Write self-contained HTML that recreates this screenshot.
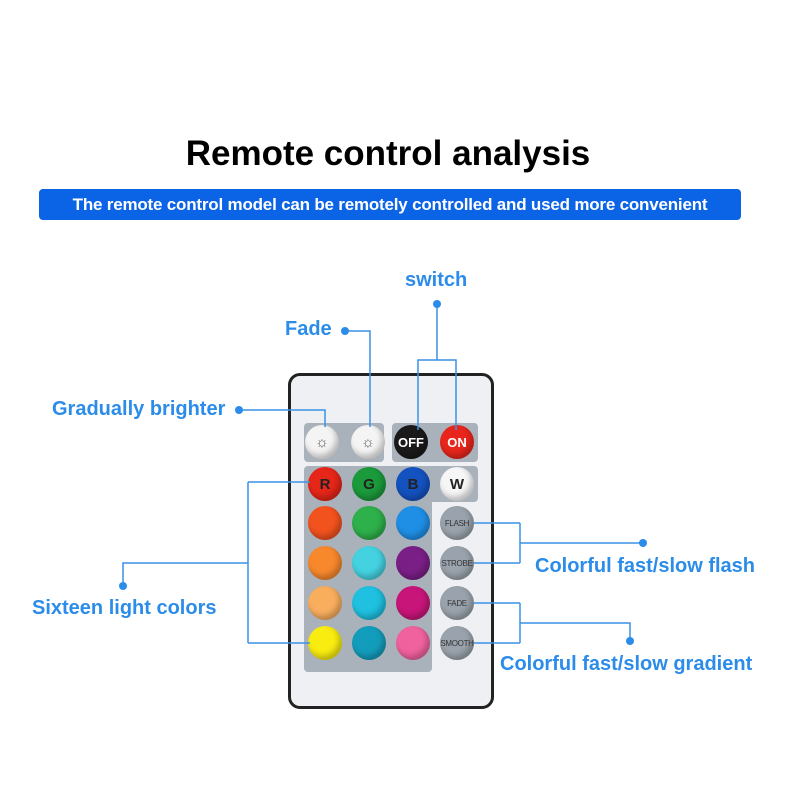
<!DOCTYPE html>
<html><head><style>
body{margin:0;width:800px;height:800px;background:#fff;position:relative;font-family:"Liberation Sans",sans-serif;overflow:hidden}
.t{position:absolute;color:#2b8ce9;font-size:20px;font-weight:bold;white-space:nowrap}
.b{position:absolute;border-radius:50%;display:flex;align-items:center;justify-content:center;font-weight:bold;font-size:15px;box-shadow:inset -3px -4px 6px rgba(0,0,0,.25)}
.s{font-size:8px;color:#333;font-weight:normal;background:#9aa3ad;letter-spacing:-0.3px}
</style></head><body>
<div style="position:absolute;left:0;top:134px;width:776px;text-align:center;font-size:35px;font-weight:bold;color:#000">Remote control analysis</div>
<div style="position:absolute;left:39px;top:189px;width:702px;height:31px;background:#0b63e6;border-radius:4px;color:#fff;font-size:17px;font-weight:bold;line-height:31px;text-align:center;letter-spacing:-0.2px">The remote control model can be remotely controlled and used more convenient</div>

<div style="position:absolute;left:288px;top:373px;width:200px;height:330px;border:3px solid #222;border-radius:12px;background:#eef0f3"></div>
<div style="position:absolute;left:304px;top:423px;width:80px;height:39px;background:#a9b1bb;border-radius:4px"></div>
<div style="position:absolute;left:392px;top:423px;width:86px;height:39px;background:#a9b1bb;border-radius:4px"></div>
<div style="position:absolute;left:304px;top:466px;width:174px;height:36px;background:#a9b1bb;border-radius:4px"></div>
<div style="position:absolute;left:304px;top:480px;width:128px;height:192px;background:#a9b1bb;border-radius:4px"></div>

<div class="b" style="left:305px;top:425px;width:34px;height:34px;background:#f4f4f4;color:#555">☼</div>
<div class="b" style="left:351px;top:425px;width:34px;height:34px;background:#f4f4f4;color:#555">☼</div>
<div class="b" style="left:394px;top:425px;width:34px;height:34px;background:#1a1a1a;color:#fff;font-size:13px">OFF</div>
<div class="b" style="left:440px;top:425px;width:34px;height:34px;background:#e8261c;color:#fff;font-size:13px">ON</div>

<div class="b" style="left:308px;top:467px;width:34px;height:34px;background:#e52618;color:#222">R</div>
<div class="b" style="left:352px;top:467px;width:34px;height:34px;background:#1b9a3b;color:#222">G</div>
<div class="b" style="left:396px;top:467px;width:34px;height:34px;background:#1452c0;color:#222">B</div>
<div class="b" style="left:440px;top:467px;width:34px;height:34px;background:#f6f6f6;color:#222">W</div>

<div class="b" style="left:308px;top:506px;width:34px;height:34px;background:#f2521e"></div>
<div class="b" style="left:352px;top:506px;width:34px;height:34px;background:#2eb04a"></div>
<div class="b" style="left:396px;top:506px;width:34px;height:34px;background:#1f8fe6"></div>
<div class="b" style="left:308px;top:546px;width:34px;height:34px;background:#f7882c"></div>
<div class="b" style="left:352px;top:546px;width:34px;height:34px;background:#44d2e0"></div>
<div class="b" style="left:396px;top:546px;width:34px;height:34px;background:#7a1f86"></div>
<div class="b" style="left:308px;top:586px;width:34px;height:34px;background:#f9ae5e"></div>
<div class="b" style="left:352px;top:586px;width:34px;height:34px;background:#1fc0e0"></div>
<div class="b" style="left:396px;top:586px;width:34px;height:34px;background:#c8157a"></div>
<div class="b" style="left:308px;top:626px;width:34px;height:34px;background:#f8ec10"></div>
<div class="b" style="left:352px;top:626px;width:34px;height:34px;background:#139dbc"></div>
<div class="b" style="left:396px;top:626px;width:34px;height:34px;background:#f0629e"></div>

<div class="b s" style="left:440px;top:506px;width:34px;height:34px">FLASH</div>
<div class="b s" style="left:440px;top:546px;width:34px;height:34px">STROBE</div>
<div class="b s" style="left:440px;top:586px;width:34px;height:34px">FADE</div>
<div class="b s" style="left:440px;top:626px;width:34px;height:34px">SMOOTH</div>

<svg width="800" height="800" style="position:absolute;left:0;top:0" fill="none" stroke="#3a92e6" stroke-width="1.5">
<path d="M239 410H325V427M345 331H370V427M437 304V360M418 430V360H456V430M123 586V563H248M248 482V643M248 482H310M248 643H310M474 523H520M474 563H520M520 523V563M520 543H643M474 603H520M474 643H520M520 603V643M520 623H630V641"/>
<g fill="#2b8ce9" stroke="none">
<circle cx="239" cy="410" r="4"/><circle cx="345" cy="331" r="4"/><circle cx="437" cy="304" r="4"/><circle cx="123" cy="586" r="4"/><circle cx="643" cy="543" r="4"/><circle cx="630" cy="641" r="4"/></g>
</svg>
<div class="t" style="left:405px;top:269px">switch</div>
<div class="t" style="left:285px;top:318px">Fade</div>
<div class="t" style="left:52px;top:398px">Gradually brighter</div>
<div class="t" style="left:32px;top:597px">Sixteen light colors</div>
<div class="t" style="left:535px;top:555px">Colorful fast/slow flash</div>
<div class="t" style="left:500px;top:653px">Colorful fast/slow gradient</div>
</body></html>
